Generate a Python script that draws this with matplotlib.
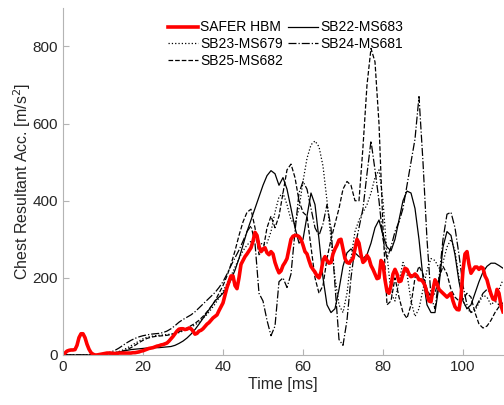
import numpy as np
import matplotlib
matplotlib.use("Agg")
import matplotlib.pyplot as plt

plt.rcParams['font.family'] = ['Liberation Sans', 'DejaVu Sans']

# ---- data ----
t_red = np.arange(0, 110.01, 0.5)
safer_hbm = [
    0, 5, 10, 12, 13, 13, 14, 25, 45, 55, 55, 45, 28, 15, 6, 2, 0, 0, 1, 2,
    3, 4, 5, 5, 5, 4, 4, 4, 5, 5, 5, 5, 5, 5, 5, 6, 6, 7, 8, 10,
    11, 13, 15, 17, 18, 19, 21, 23, 24, 26, 27, 29, 31, 36, 42, 48, 55, 62, 67, 68,
    68, 66, 67, 70, 68, 62, 54, 56, 62, 64, 68, 74, 80, 84, 90, 96, 100, 104, 115, 125,
    135, 155, 175, 190, 205, 205, 180, 172, 200, 235, 245, 255, 262, 270, 278, 295, 318, 310, 282, 268,
    275, 278, 265, 260, 268, 262, 240, 225, 213, 218, 232, 240, 250, 275, 300, 308, 310, 310, 307, 300,
    285, 268, 262, 245, 230, 222, 215, 205, 200, 215, 245, 255, 245, 238, 240, 262, 275, 285, 298, 300,
    275, 250, 240, 238, 245, 250, 275, 300, 290, 260, 240, 245, 258, 250, 232, 222, 210, 198, 200, 245,
    238, 195, 165, 160, 180, 210, 222, 210, 190, 192, 210, 225, 222, 210, 203, 205, 210, 205, 195, 195,
    190, 180, 160, 140, 138, 170, 195, 185, 170, 165, 160, 155, 150, 155, 160, 140, 125, 118, 117, 150,
    220, 262, 268, 235, 212, 220, 228, 228, 222, 228, 225, 205, 195, 175, 158, 145, 143, 170, 160, 128,
    112,
]

t_ms = np.arange(0, 111, 1)
sb22_ms683 = [
    0, 0, 0, 0, 0, 0, 0, 0, 0, 1,
    2, 3, 4, 6, 8, 10, 12, 14, 15, 16,
    17, 18, 18, 19, 19, 20, 21, 22, 25, 30,
    36, 44, 54, 66, 80, 95, 110, 125, 140, 150,
    160, 175, 195, 220, 250, 285, 320, 350, 380, 410,
    440, 465, 478, 470, 440, 460, 430, 380, 330, 290,
    300, 360, 420, 390, 300, 200, 130, 110, 120, 170,
    230, 265, 275, 265, 255, 250, 260, 290, 330, 350,
    310, 280, 270, 300, 350, 400, 425, 420, 380, 300,
    200, 130, 110, 110, 180, 280, 320, 310, 260, 190,
    140, 120, 130, 160, 190, 215, 230, 238, 238, 232, 225,
]
sb23_ms679 = [
    0, 0, 0, 0, 0, 0, 0, 0, 0, 0,
    1, 2, 4, 6, 9, 13, 18, 24, 30, 36,
    42, 46, 48, 50, 51, 52, 53, 54, 56, 58,
    62, 66, 72, 78, 85, 95, 105, 118, 132, 148,
    165, 185, 205, 228, 250, 270, 285, 295, 300, 295,
    285, 290, 320, 370, 410, 420, 390, 350, 340, 380,
    450, 510, 545, 555, 540, 490, 400, 300, 200, 130,
    110, 160, 250, 320, 350, 370, 390, 420, 460, 480,
    400, 260, 160, 140, 190, 240, 210, 140, 100, 120,
    170, 220, 250, 245, 225, 240, 280, 300, 270, 200,
    140, 120, 110, 115, 135, 155, 150, 130, 140, 170, 195,
]
sb24_ms681 = [
    0, 0, 0, 0, 0, 0, 0, 0, 0, 1,
    3, 5, 8, 12, 18, 25, 32, 38, 43, 47,
    50, 52, 54, 55, 56, 58, 62, 68, 76, 85,
    92, 98, 104, 112, 122, 132, 142, 152, 162, 175,
    190, 210, 232, 252, 272, 295, 320, 335, 290, 160,
    140, 90, 50, 75, 190, 200, 175, 210, 320, 420,
    450, 430, 380, 330, 310, 340, 390, 330, 180, 40,
    25, 90, 200, 280, 330, 380, 470, 555, 480, 400,
    300, 250, 280, 320, 345, 380, 440, 500, 560, 670,
    500, 300, 150, 120, 200, 300, 365, 370, 330, 260,
    180, 130, 110, 120, 140, 160, 170, 160, 140, 130, 135,
]
sb25_ms682 = [
    0, 0, 0, 0, 0, 0, 0, 0, 0, 0,
    1, 2, 3, 5, 7, 10, 14, 19, 25, 32,
    38, 43, 46, 48, 49, 50, 51, 53, 56, 60,
    65, 70, 76, 82, 90, 100, 112, 125, 140, 160,
    180, 205, 235, 270, 310, 345, 370, 378, 330, 260,
    270, 330, 360, 330, 360, 420, 480, 495, 460, 400,
    370, 360, 280, 200, 160, 180, 250, 300, 340, 380,
    430, 450, 440, 400, 400, 540, 700, 795, 760, 600,
    330, 130, 140, 200, 150, 110, 95, 130, 200, 230,
    210, 170, 150, 160, 200, 230, 210, 170, 150, 140,
    145, 160, 150, 110, 80, 70, 75, 90, 110, 125, 130,
]

x_ticks = [0, 20, 40, 60, 80, 100]
y_ticks = [0, 200, 400, 600, 800]

# ---- figure ----
fig = plt.figure(figsize=(5.04, 4.05), dpi=100)
ax = fig.add_axes([0.125, 0.1235, 0.873, 0.857])

lw_b = 0.9
h_sb22, = ax.plot(t_ms, sb22_ms683, color='black', lw=lw_b, ls='-', label='SB22-MS683')
h_sb23, = ax.plot(t_ms, sb23_ms679, color='black', lw=lw_b, ls=':', label='SB23-MS679')
h_sb24, = ax.plot(t_ms, sb24_ms681, color='black', lw=lw_b, ls='-.', label='SB24-MS681')
h_sb25, = ax.plot(t_ms, sb25_ms682, color='black', lw=lw_b, ls='--', label='SB25-MS682')
h_red, = ax.plot(t_red, safer_hbm, color='#ff0000', lw=2.6, label='SAFER HBM')

ax.set_xlim(0, 110)
ax.set_ylim(0, 900)
ax.set_xticks(x_ticks)
ax.set_yticks(y_ticks)
for s in ['top', 'right']:
    ax.spines[s].set_visible(False)
for s in ['left', 'bottom']:
    ax.spines[s].set_color('#b4b4b4')
    ax.spines[s].set_linewidth(0.8)
ax.tick_params(direction='in', length=4, color='#b4b4b4', labelsize=11,
               labelcolor='#262626')
ax.set_xlabel('Time [ms]', fontsize=11.5, color='#262626', labelpad=2)
ax.set_ylabel('Chest Resultant Acc. [m/s$^2$]', fontsize=11.5, color='#262626', labelpad=0)

handles = [h_red, h_sb23, h_sb25, h_sb22, h_sb24]
leg = ax.legend(handles=handles, labels=[h.get_label() for h in handles],
                ncol=2, frameon=False, fontsize=10,
                loc='upper left', bbox_to_anchor=(0.238, 0.964),
                handlelength=2.15, handletextpad=0.2, columnspacing=0.35,
                labelspacing=0.2, borderaxespad=0.0, borderpad=0.0)

fig.savefig('out.png', dpi=100)
